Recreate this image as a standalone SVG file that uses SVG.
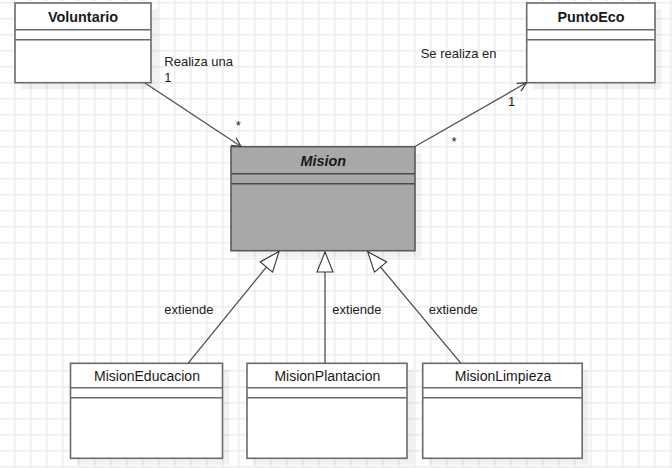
<svg xmlns="http://www.w3.org/2000/svg" width="672" height="468" viewBox="0 0 672 468">
<defs>
<style>
.box{fill:#ffffff;stroke:#6b6b6b;stroke-width:1.6}
.abs{fill:#a8a8a8;stroke:#5a5a5a;stroke-width:1.6}
.sep{stroke:#6b6b6b;stroke-width:1.6}
.sepd{stroke:#4a4a4a;stroke-width:1.6}
.shadow{fill:#000000;fill-opacity:0.055}
.name{font-family:"Liberation Sans",Arial,Helvetica,sans-serif;font-size:14px;fill:#1a1a1a;text-anchor:middle}
.bold{font-weight:bold;font-size:14.4px}
.lbl{font-family:"Liberation Sans",Arial,Helvetica,sans-serif;font-size:13px;fill:#222222}
.edge{fill:none;stroke:#4f4f4f;stroke-width:1.3}
</style>
<pattern id="grid" patternUnits="userSpaceOnUse" x="13.95" y="1.95" width="16" height="16">
<path d="M0.75 0V16M0 0.75H16" stroke="#ececec" stroke-width="1.5" fill="none"/>
</pattern>
<marker id="open" markerUnits="userSpaceOnUse" viewBox="-11 -6 12 12" refX="0" refY="0" markerWidth="12" markerHeight="12" orient="auto" overflow="visible">
<path d="M-9,-4.5L0,0L-9,4.5" fill="none" stroke="#444444" stroke-width="1.3"/>
</marker>
<marker id="tri" markerUnits="userSpaceOnUse" viewBox="-21 -9 22 18" refX="0" refY="0" markerWidth="22" markerHeight="18" orient="auto" overflow="visible">
<path d="M0,0L-20,-8L-20,8Z" fill="#ffffff" stroke="#333333" stroke-width="1.1"/>
</marker>
</defs>
<rect x="0" y="0" width="672" height="468" fill="#ffffff"/>
<rect x="0" y="0" width="672" height="468" fill="url(#grid)"/>

<g id="node-voluntario">
<rect class="shadow" x="21.5" y="9.5" width="136" height="79.7"/>
<rect class="box" x="15" y="3" width="136" height="79.7"/>
<line class="sep" x1="15" y1="29.7" x2="151" y2="29.7"/>
<line class="sep" x1="15" y1="39.7" x2="151" y2="39.7"/>
<text class="name bold" x="83" y="21.7">Voluntario</text>
</g>

<g id="node-puntoeco">
<rect class="shadow" x="533.2" y="9.5" width="128.3" height="79.7"/>
<rect class="box" x="526.7" y="3" width="128.3" height="79.7"/>
<line class="sep" x1="526.7" y1="29.7" x2="655" y2="29.7"/>
<line class="sep" x1="526.7" y1="39.7" x2="655" y2="39.7"/>
<text class="name bold" x="591" y="21.7">PuntoEco</text>
</g>

<g id="node-mision">
<rect class="shadow" x="237.5" y="153.2" width="184" height="104"/>
<rect class="abs" x="231" y="146.7" width="184" height="104"/>
<line class="sepd" x1="231" y1="173.7" x2="415" y2="173.7"/>
<line class="sepd" x1="231" y1="183.7" x2="415" y2="183.7"/>
<text class="name bold" x="323.3" y="166" font-style="italic">Mision</text>
</g>

<g id="node-misioneducacion">
<rect class="shadow" x="77" y="369.8" width="152" height="95"/>
<rect class="box" x="70.5" y="363.3" width="152" height="95"/>
<line class="sep" x1="70.5" y1="387.7" x2="222.5" y2="387.7"/>
<line class="sep" x1="70.5" y1="397.7" x2="222.5" y2="397.7"/>
<text class="name" x="147" y="380.7">MisionEducacion</text>
</g>

<g id="node-misionplantacion">
<rect class="shadow" x="253.5" y="369.8" width="160" height="95"/>
<rect class="box" x="247" y="363.3" width="160" height="95"/>
<line class="sep" x1="247" y1="387.7" x2="407" y2="387.7"/>
<line class="sep" x1="247" y1="397.7" x2="407" y2="397.7"/>
<text class="name" x="327.3" y="380.7">MisionPlantacion</text>
</g>

<g id="node-misionlimpieza">
<rect class="shadow" x="429.2" y="369.8" width="159.5" height="95"/>
<rect class="box" x="422.7" y="363.3" width="159.5" height="95"/>
<line class="sep" x1="422.7" y1="387.7" x2="582.2" y2="387.7"/>
<line class="sep" x1="422.7" y1="397.7" x2="582.2" y2="397.7"/>
<text class="name" x="503" y="380.7">MisionLimpieza</text>
</g>

<g id="connectors">
<line class="edge" x1="145" y1="83" x2="241" y2="146.5" marker-end="url(#open)"/>
<line class="edge" x1="415" y1="146.5" x2="526.5" y2="82.8" marker-end="url(#open)"/>
<line class="edge" x1="188" y1="363.3" x2="279" y2="251.5" marker-end="url(#tri)"/>
<line class="edge" x1="325" y1="363.3" x2="325" y2="252" stroke="#222222" marker-end="url(#tri)"/>
<line class="edge" x1="461" y1="363.3" x2="367.7" y2="251.7" marker-end="url(#tri)"/>
</g>

<g id="labels">
<text class="lbl" x="164.3" y="66.3">Realiza una</text>
<text class="lbl" x="164.3" y="82">1</text>
<text class="lbl" x="238.3" y="130" text-anchor="middle">*</text>
<text class="lbl" x="420.7" y="58.3">Se realiza en</text>
<text class="lbl" x="511.7" y="105.5" text-anchor="middle">1</text>
<text class="lbl" x="454" y="146" text-anchor="middle">*</text>
<text class="lbl" x="164.3" y="314">extiende</text>
<text class="lbl" x="332.3" y="314">extiende</text>
<text class="lbl" x="428.7" y="314">extiende</text>
</g>
</svg>
